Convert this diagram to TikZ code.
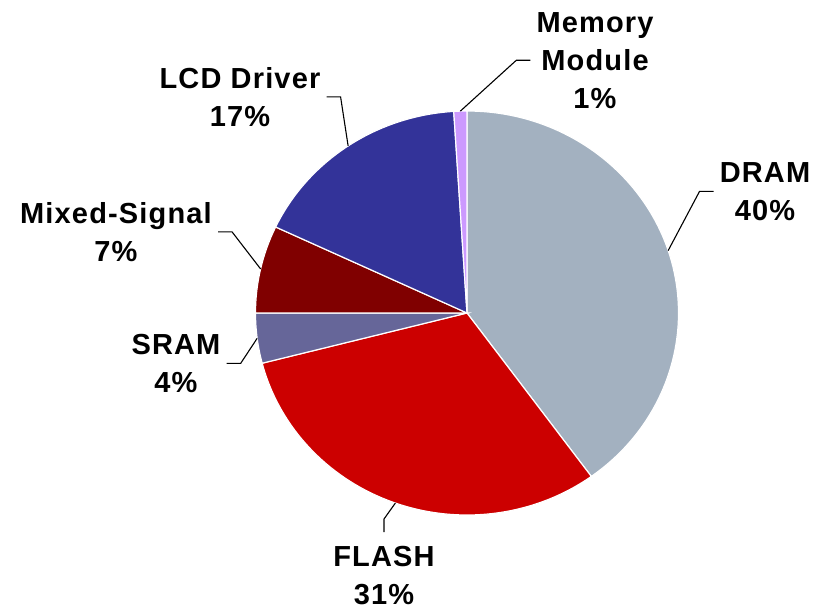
\documentclass[tikz,border=0pt]{standalone}
\usepackage{fontspec}
\newfontfamily\lblfont[LetterSpace=4]{Liberation Sans}

\definecolor{dramgray}{HTML}{A3B1C0}
\definecolor{flashred}{HTML}{CC0000}
\definecolor{sramblue}{HTML}{666699}
\definecolor{mixedred}{HTML}{800000}
\definecolor{lcdblue}{HTML}{333399}
\definecolor{memlilac}{HTML}{CC99FF}

\begin{document}
\begin{tikzpicture}[x=1pt,y=-1pt]
      \useasboundingbox (0,0) rectangle (816,609);

      % Slices
      \coordinate (c) at (467,313);
      \begin{scope}[draw=white,line width=1.2pt]
        \filldraw[fill=dramgray] (c) -- ++(-90:211.5 and 202) arc[start angle=-90,end angle=54,x radius=211.5,y radius=202] -- cycle;
        \filldraw[fill=flashred] (c) -- ++(54:211.5 and 202) arc[start angle=54,end angle=165.6,x radius=211.5,y radius=202] -- cycle;
        \filldraw[fill=sramblue] (c) -- ++(165.6:211.5 and 202) arc[start angle=165.6,end angle=180,x radius=211.5,y radius=202] -- cycle;
        \filldraw[fill=mixedred] (c) -- ++(180:211.5 and 202) arc[start angle=180,end angle=205.2,x radius=211.5,y radius=202] -- cycle;
        \filldraw[fill=lcdblue] (c) -- ++(205.2:211.5 and 202) arc[start angle=205.2,end angle=266.4,x radius=211.5,y radius=202] -- cycle;
        \filldraw[fill=memlilac] (c) -- ++(266.4:211.5 and 202) arc[start angle=266.4,end angle=270,x radius=211.5,y radius=202] -- cycle;
      \end{scope}

      % Labels
      \begin{scope}[every node/.style={font=\lblfont\bfseries\fontsize{29}{38}\selectfont,align=center,inner xsep=6pt,inner ysep=0pt,anchor=north}]
        \node (mem) at (595,12) {Memory\\Module\\1\%};
        \node (dram) at (765,162) {DRAM\\40\%};
        \node (flash) at (384,546) {FLASH\\31\%};
        \node (sram) at (176,334) {SRAM\\4\%};
        \node (mixed) at (116,202) {Mixed-Signal\\7\%};
        \node (lcd) at (240,67) {LCD Driver\\17\%};
      \end{scope}

      % Leaders
      \path (c) ++(-91.8:211.5 and 202) coordinate (mem-in);
      \path (c) ++(-18:211.5 and 202) coordinate (dram-in);
      \path (c) ++(109.8:211.5 and 202) coordinate (flash-in);
      \path (c) ++(172.8:211.5 and 202) coordinate (sram-in);
      \path (c) ++(192.6:211.5 and 202) coordinate (mixed-in);
      \path (c) ++(235.8:211.5 and 202) coordinate (lcd-in);
      \begin{scope}[line width=1.1pt]
        \draw (mem-in) -- ([xshift=-14pt]mem.west) -- (mem.west);
        \draw (dram-in) -- ([xshift=-14pt]dram.west) -- (dram.west);
        \draw (flash-in) -- ([yshift=27pt]flash.north) -- ([yshift=14pt]flash.north);
        \draw (sram-in) -- ([xshift=14pt]sram.east) -- (sram.east);
        \draw (mixed-in) -- ([xshift=14pt]mixed.east) -- (mixed.east);
        \draw (lcd-in) -- ([xshift=14pt]lcd.east) -- (lcd.east);
      \end{scope}

    \end{tikzpicture}
\end{document}
